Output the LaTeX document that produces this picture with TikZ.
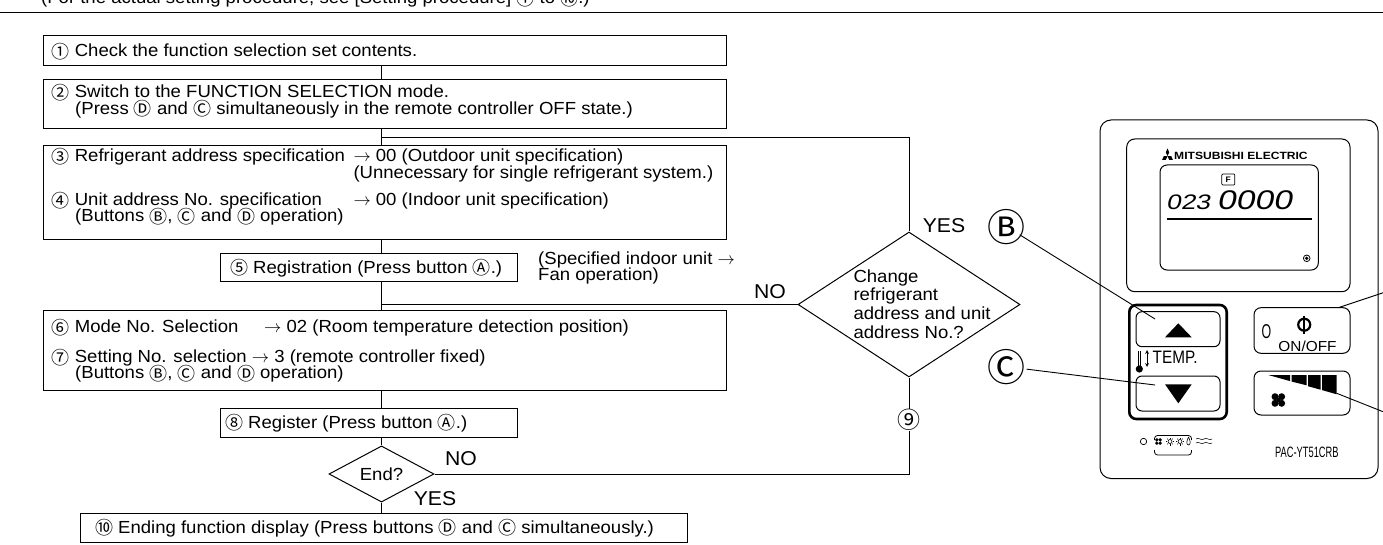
\documentclass[tikz,border=0pt]{standalone}
\usepackage{fontspec}
\setmainfont{Liberation Sans}[FakeStretch=1.06]
\newfontfamily\cjk{Noto Sans CJK JP}
\newfontfamily\narrowfont{Liberation Sans}[FakeStretch=0.62]
\newfontfamily\condfont{Liberation Sans}[FakeStretch=0.85]
\newfontfamily\lcdfont{Liberation Sans}[FakeStretch=1.25,FakeSlant=0.2]
\newfontfamily\logofont{Liberation Sans}[FakeStretch=1.15]
\usetikzlibrary{shapes.geometric,calc}
\newcommand\mainfs{\fontsize{17.5}{18.6}\selectfont}
\newcommand\cc[1]{\smash{\raisebox{-1.6pt}{\cjk\fontsize{18}{18}\selectfont #1}}}
\newcommand\cn[1]{\cc{#1}}
\begin{document}
\begin{tikzpicture}[x=1pt,y=-1pt,
  box/.style={draw,line width=1pt,inner sep=0pt,anchor=north west},
  txt/.style={anchor=base west,inner sep=0pt,font=\mainfs},
  lab/.style={inner sep=0pt,font=\fontsize{20}{20}\selectfont},
  flow/.style={line width=1pt},
  lead/.style={line width=0.9pt},
  btn/.style={line width=1pt,rounded corners=6}]
\useasboundingbox (0,0) rectangle (1383,545);
\clip (0,0) rectangle (1383,545);
% ---------- header ----------
\node[txt] (ttl) at (41,4) {(For the actual setting procedure, see [Setting procedure] \cc{①} to \cc{⑩}.)};
\coordinate (rl) at (0,12.5); \coordinate (rr) at (1383,12.5);
\draw[line width=1.3pt] (rl) -- (rr);
\coordinate (col) at (381.5,0);
% ---------- flow boxes ----------
\node[box,minimum width=683,minimum height=30.5] (b1) at (42.5,35) {};
\node[txt] (t1) at (51.5,56.7) {\cn{①} Check the function selection set contents.};
\node[box,minimum width=683,minimum height=49.5] (b2) at (42.5,79) {};
\node[txt] (t2a) at (51.5,97.8) {\cn{②} Switch to the FUNCTION SELECTION mode.};
\node[txt] (t2b) at (75,114.3) {(Press \cc{Ⓓ} and \cc{Ⓒ} simultaneously in the remote controller OFF state.)};
\node[box,minimum width=683,minimum height=94.5] (b3) at (42.5,145) {};
\node[txt] (t3a) at (51.5,162) {\makebox[301.8pt][l]{\cn{③} Refrigerant address specification}$\rightarrow$ 00 (Outdoor unit specification)};
\node[txt] (t3b) at (353.3,178.5) {(Unnecessary for single refrigerant system.)};
\node[txt] (t4a) at (51.5,206) {\makebox[301.8pt][l]{\cn{④} Unit address No. specification}$\rightarrow$ 00 (Indoor unit specification)};
\node[txt] (t4b) at (75,222) {(Buttons \cc{Ⓑ}, \cc{Ⓒ} and \cc{Ⓓ} operation)};
\node[box,minimum width=297,minimum height=27] (b5) at (220,253.5) {};
\node[txt] (t5) at (229.8,273) {\cn{⑤} Registration (Press button \cc{Ⓐ}.)};
\node[txt] (s1) at (538,265) {(Specified indoor unit $\rightarrow$};
\node[txt] (s2) at (538,280.5) {Fan operation)};
\node[box,minimum width=683,minimum height=80] (b6) at (42.5,310) {};
\node[txt] (t6) at (51.5,332.5) {\makebox[212.5pt][l]{\cn{⑥} Mode No. Selection}$\rightarrow$ 02 (Room temperature detection position)};
\node[txt] (t7a) at (51.5,362.5) {\cn{⑦} Setting No. selection $\rightarrow$ 3 (remote controller fixed)};
\node[txt] (t7b) at (75,378.5) {(Buttons \cc{Ⓑ}, \cc{Ⓒ} and \cc{Ⓓ} operation)};
\node[box,minimum width=297,minimum height=28.5] (b8) at (220,408) {};
\node[txt] (t8) at (224.8,428.3) {\cn{⑧} Register (Press button \cc{Ⓐ}.)};
\node[diamond,draw,line width=1pt,minimum width=105,minimum height=45,inner sep=0pt,font=\mainfs] (de) at (381.5,474) {End?};
\node[lab] (eno) at (461,459) {NO};
\node[lab] (eyes) at (435,499) {YES};
\node[box,minimum width=607,minimum height=28.5] (b10) at (80,513) {};
\node[txt] (t10) at (94.8,533) {\cn{⑩} Ending function display (Press buttons \cc{Ⓓ} and \cc{Ⓒ} simultaneously.)};
% ---------- decision ----------
\node[diamond,draw,line width=1pt,minimum width=222,minimum height=145,inner sep=0pt] (dq) at (909,304.5) {};
\node[anchor=west,align=left,inner sep=0pt,font=\mainfs] (dqt) at (853.3,304) {Change\\refrigerant\\address and unit\\address No.?};
\node[lab] (qyes) at (944,225.5) {YES};
\node[lab] (qno) at (770,291.7) {NO};
\node[inner sep=0pt,font=\cjk\fontsize{23}{23}\selectfont] (n9) at (909,420) {⑨};
% ---------- connectors ----------
\draw[flow] (b1.south -| col) -- (b2.north -| col);
\draw[flow] (b2.south -| col) -- (b3.north -| col);
\coordinate (j1) at ($(b2.south -| col)!0.5!(b3.north -| col)$);
\draw[flow] (j1) -| (dq.north);
\draw[flow] (b3.south -| col) -- (b5.north -| col);
\draw[flow] (b5.south -| col) -- (b6.north -| col);
\draw[flow] (dq.west) -- (dq.west -| col);
\draw[flow] (b6.south -| col) -- (b8.north -| col);
\draw[flow] (b8.south -| col) -- (de.north);
\draw[flow] (de.south) -- (b10.north -| col);
\draw[flow] (de.east) -| (n9.south);
\draw[flow] (n9.north) -- (dq.south);
% ---------- remote controller ----------
\draw[line width=1pt,rounded corners=11] (1100,120) rectangle (1378,478.5);
\draw[line width=1pt,rounded corners=8] (1126.7,139) rectangle (1350,291.7);
\draw[line width=1pt,rounded corners=7] (1160,165) rectangle (1318.3,270);
% logo
\fill (1167.5,148.5) -- (1169.2,152.3) -- (1167.5,156.1) -- (1165.8,152.3) -- cycle;
\fill (1167.5,156.1) -- (1163.8,156.1) -- (1162.1,159.9) -- (1165.8,159.9) -- cycle;
\fill (1167.5,156.1) -- (1171.2,156.1) -- (1172.9,159.9) -- (1169.2,159.9) -- cycle;
\node[anchor=base west,inner sep=0pt,font=\logofont\bfseries\fontsize{10.5}{10.5}\selectfont] (logo) at (1174,159.5) {MITSUBISHI ELECTRIC};
% LCD
\node[draw,line width=0.7pt,rounded corners=1,minimum width=13,minimum height=11,inner sep=0pt,font=\bfseries\fontsize{8}{8}\selectfont] (fbox) at (1228.3,179.5) {F};
\node[anchor=base west,inner sep=0pt,font=\lcdfont\fontsize{21}{21}\selectfont] (dg1) at (1166,210) {023};
\node[anchor=base west,inner sep=0pt,font=\lcdfont\fontsize{27}{27}\selectfont] (dg2) at (1216.7,210) {0000};
\draw[line width=2pt] (1166.7,219.3) -- (1311.7,219.3);
\draw[line width=0.8pt] (1306.7,258.3) circle (3.3);
\fill (1306.7,258.3) circle (1.8);
% TEMP group
\draw[line width=2.6pt,rounded corners=7] (1129.3,305) rectangle (1226.7,419);
\draw[btn] (1136,311.7) rectangle (1220,346.7);
\fill (1178.3,323.3) -- (1191.7,337.3) -- (1165,337.3) -- cycle;
\draw[btn] (1136,376) rectangle (1220,411);
\fill (1165,384.3) -- (1191.7,384.3) -- (1178.3,403.3) -- cycle;
\node[anchor=base west,inner sep=0pt,font=\condfont\fontsize{18}{18}\selectfont] (temp) at (1152.5,363) {TEMP.};
\fill (1139.3,369) circle (3.6);
\draw[line width=0.8pt] (1138,351) -- (1138,366);
\draw[line width=0.8pt] (1140.6,351) -- (1140.6,366);
\draw[line width=0.8pt,<->,>=stealth] (1147,350) -- (1147,367);
% ON/OFF
\draw[btn,rounded corners=7] (1254,307.7) rectangle (1350,353.3);
\node[anchor=base west,inner sep=0pt,font=\narrowfont\fontsize{20}{20}\selectfont] (ooo) at (1261.5,338.5) {O};
\node[anchor=base,inner sep=0pt,font=\fontsize{14.5}{14.5}\selectfont] (onoff) at (1307.5,351.7) {ON/OFF};
\draw[line width=2.2pt] (1304.2,324.7) circle (6);
\draw[line width=2.2pt] (1304.2,315.7) -- (1304.2,333.5);
% fan
\draw[btn,rounded corners=7] (1254,371) rectangle (1350,415);
\fill (1268.3,375) -- (1290,375) -- (1290,381.1) -- cycle;
\fill (1291.5,375) -- (1306.5,375) -- (1306.5,385.3) -- (1291.5,381.5) -- cycle;
\fill (1308,375) -- (1320.5,375) -- (1320.5,389.7) -- (1308,386.2) -- cycle;
\fill (1322,375) -- (1336.7,375) -- (1336.7,394.3) -- (1322,390.1) -- cycle;
\foreach \dx/\dy in {-3.3/-3.3,3.3/-3.3,-3.3/3.3,3.3/3.3} \fill (1278.3+\dx,400+\dy) circle (3.5);
\fill (1278.3,400) circle (2.2);
% bottom icons
\draw[line width=0.7pt] (1143.5,441.5) circle (3.2);
\foreach \dx/\dy in {-1.7/-1.7,1.7/-1.7,-1.7/1.7,1.7/1.7} \fill (1158.5+\dx,441.5+\dy) circle (1.8);
\foreach \cx in {1170,1180} {\draw[line width=0.6pt] (\cx,441.5) circle (2);
  \foreach \a in {0,45,...,315} \draw[line width=0.5pt] ($(\cx,441.5)+(\a:2.8)$) -- ($(\cx,441.5)+(\a:4)$);}
\draw[line width=0.6pt] (1188.5,437) .. controls (1186.5,441) and (1186,444.5) .. (1188.5,445) .. controls (1191,444.5) and (1190.5,441) .. (1188.5,437);
\draw[line width=0.5pt] (1196,439) .. controls (1199,436.5) and (1201,441.5) .. (1204,439) .. controls (1207,436.5) and (1209,441.5) .. (1212,439);
\draw[line width=0.5pt] (1196,443) .. controls (1199,440.5) and (1201,445.5) .. (1204,443) .. controls (1207,440.5) and (1209,445.5) .. (1212,443);
\draw[line width=0.8pt,rounded corners=3] (1154.5,440) |- (1191.5,435.5) -- (1191.5,440);
\draw[line width=0.8pt,rounded corners=3] (1154.5,450) |- (1191.5,455) -- (1191.5,450);
\node[anchor=base west,inner sep=0pt,font=\narrowfont\fontsize{15}{15}\selectfont] (model) at (1275,457.5) {PAC-YT51CRB};
% ---------- leaders ----------
\coordinate (upT) at (1155,319);
\coordinate (dnT) at (1155,385);
\coordinate (onS) at (1338.3,307.7); \coordinate (onR) at (1383,292.8);
\coordinate (fanS) at (1336.7,393.3); \coordinate (fanR) at (1383,411.7);
\node[inner sep=0pt,font=\cjk\fontsize{38}{38}\selectfont] (B) at (1006.7,226.7) {Ⓑ};
\node[inner sep=0pt,font=\cjk\fontsize{38}{38}\selectfont] (C) at (1006.7,366.7) {Ⓒ};
\draw[lead] ($(B.center)!15.3pt!(upT)$) -- (upT);
\draw[lead] ($(C.center)!20pt!(dnT)$) -- (dnT);
\draw[lead] (onS) -- (onR);
\draw[lead] (fanS) -- (fanR);
\end{tikzpicture}
\end{document}
